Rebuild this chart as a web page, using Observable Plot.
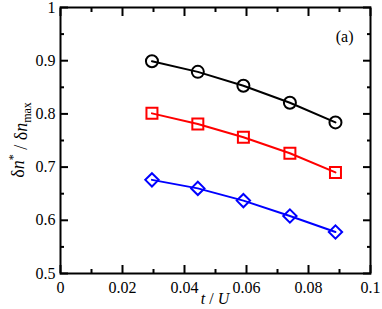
<!DOCTYPE html>
<html>
<head>
<meta charset="utf-8">
<script src="https://cdn.jsdelivr.net/npm/d3@7"></script>
<script src="https://cdn.jsdelivr.net/npm/@observablehq/plot@0.6"></script>
<style>
  html, body { margin: 0; padding: 0; background: #fff; }
  #chart svg, #chart svg text, #chart svg tspan { font-family: "Liberation Serif", serif !important; }
</style>
</head>
<body>
<div id="chart"></div>
<script>
// Data
const tU = [0.0295, 0.0443, 0.059, 0.074, 0.0887];
const seriesCircle = [0.899, 0.879, 0.853, 0.821, 0.784];
const seriesSquare = [0.801, 0.781, 0.756, 0.726, 0.690];
const seriesDiamond = [0.676, 0.660, 0.637, 0.608, 0.578];
const xMajorTicks = [0, 0.02, 0.04, 0.06, 0.08, 0.1];
const xMinorTicks = [0.01, 0.03, 0.05, 0.07, 0.09];
const yMajorTicks = [0.5, 0.6, 0.7, 0.8, 0.9, 1];
const yMinorTicks = [0.55, 0.65, 0.75, 0.85, 0.95];
const panelLabel = "(a)";

const series = [
  {name: "circle", values: seriesCircle, color: "#000000", symbol: "circle", r: 6},
  {name: "square", values: seriesSquare, color: "#ff0000", symbol: "square", r: 6.2},
  {name: "diamond", values: seriesDiamond, color: "#0000ff", symbol: "diamond2", r: 6}
];

const font = "Liberation Serif";
const marks = [];
for (const s of series) {
  const rows = tU.map((x, i) => ({x, y: s.values[i]}));
  marks.push(Plot.line(rows, {x: "x", y: "y", stroke: s.color, strokeWidth: 2}));
  marks.push(Plot.dot(rows, {x: "x", y: "y", stroke: s.color, fill: "none", strokeWidth: 2, symbol: s.symbol, r: s.r}));
}
const noText = () => "";
marks.push(
  // tick labels
  Plot.axisX({ticks: xMajorTicks, tickSize: 0, tickPadding: 8, label: null, tickFormat: d => d3.format("")(d), fontSize: 16}),
  Plot.axisY({ticks: yMajorTicks, tickSize: 0, tickPadding: 5, label: null, tickFormat: d => d3.format("")(d), fontSize: 16}),
  // inward ticks on all sides
  Plot.axisX({ticks: xMajorTicks, tickSize: -8, tickFormat: noText, label: null, strokeWidth: 2}),
  Plot.axisX({ticks: xMinorTicks, tickSize: -4, tickFormat: noText, label: null, strokeWidth: 2}),
  Plot.axisX({anchor: "top", ticks: xMajorTicks, tickSize: -8, tickFormat: noText, label: null, strokeWidth: 2}),
  Plot.axisX({anchor: "top", ticks: xMinorTicks, tickSize: -4, tickFormat: noText, label: null, strokeWidth: 2}),
  Plot.axisY({ticks: yMajorTicks, tickSize: -8, tickFormat: noText, label: null, strokeWidth: 2}),
  Plot.axisY({ticks: yMinorTicks, tickSize: -4, tickFormat: noText, label: null, strokeWidth: 2}),
  Plot.axisY({anchor: "right", ticks: yMajorTicks, tickSize: -8, tickFormat: noText, label: null, strokeWidth: 2}),
  Plot.axisY({anchor: "right", ticks: yMinorTicks, tickSize: -4, tickFormat: noText, label: null, strokeWidth: 2}),
  Plot.frame({stroke: "#000", strokeWidth: 2}),
  Plot.text([panelLabel], {frameAnchor: "top-right", text: d => d, dx: -17, dy: 23, fontSize: 16, fill: "#000"})
);

const chart = Plot.plot({
  width: 382,
  height: 309,
  marginLeft: 60,
  marginRight: 12,
  marginTop: 7,
  marginBottom: 36,
  style: {fontFamily: font, fontSize: "16px", color: "#000", background: "#fff"},
  x: {domain: [0, 0.1]},
  y: {domain: [0.5, 1]},
  marks
});

// Axis titles with italic / superscript / subscript parts
const svg = d3.select(chart);
svg.selectAll("text").attr("font-family", font);
const xl = svg.append("text")
  .attr("x", (60 + 370) / 2)
  .attr("y", 304)
  .attr("text-anchor", "middle")
  .attr("font-family", font)
  .attr("font-size", 16)
  .attr("fill", "#000");
xl.append("tspan").attr("font-style", "italic").text("t");
xl.append("tspan").text(" / ");
xl.append("tspan").attr("font-style", "italic").text("U");

const yl = svg.append("text")
  .attr("transform", `translate(24, ${(7 + 273) / 2}) rotate(-90)`)
  .attr("text-anchor", "middle")
  .attr("font-family", font)
  .attr("font-size", 18)
  .attr("fill", "#000");
yl.append("tspan").text("δ");
yl.append("tspan").attr("font-style", "italic").text("n");
yl.append("tspan").attr("dy", "-0.55em").attr("font-size", 12).text("*");
yl.append("tspan").attr("dy", "0.55em").text(" / δ");
yl.append("tspan").attr("font-style", "italic").text("n");
yl.append("tspan").attr("dy", "0.3em").attr("font-size", 12).text("max");

document.getElementById("chart").appendChild(chart);
</script>
</body>
</html>
